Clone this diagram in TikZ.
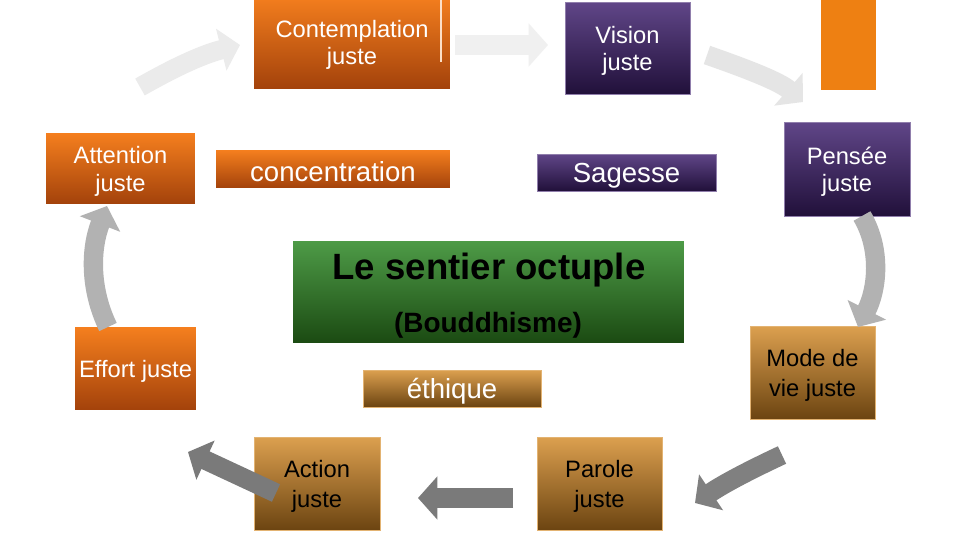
\documentclass[tikz,border=0pt]{standalone}
\usepackage{fontspec}
\setmainfont{Liberation Sans}
\usepackage{xcolor}
\usetikzlibrary{arrows.meta}
\definecolor{orangetop}{HTML}{F57F1E}
\definecolor{orangebot}{HTML}{A3420B}
\definecolor{purpletop}{HTML}{604688}
\definecolor{purplebot}{HTML}{21103A}
\definecolor{browntop}{HTML}{DCA04F}
\definecolor{brownbot}{HTML}{6C4411}
\definecolor{greentop}{HTML}{4E9B47}
\definecolor{greenbot}{HTML}{1B4A12}
\definecolor{barorange}{HTML}{EE8012}
\tikzset{
  box/.style={inner sep=0pt},
  orangebox/.style={box, top color=orangetop, bottom color=orangebot},
  purplebox/.style={box, top color=purpletop, bottom color=purplebot, draw=purpletop!70!white, line width=0.4pt},
  brownbox/.style={box, top color=browntop, bottom color=brownbot, draw=browntop!80!white, line width=0.4pt},
  boxtext/.style={align=center, yshift=-1.6pt, font=\fontsize{13.5}{15.5}\selectfont},
  bigtext/.style={boxtext, font=\fontsize{15.7}{18}\selectfont},
  browntext/.style={boxtext, font=\fontsize{13.5}{17}\selectfont},
  blockarrow/.style={line width=11pt, -{Triangle[length=11pt,width=24pt]}},
}

\begin{document}
\begin{tikzpicture}[x=0.02cm, y=-0.02cm]
    \useasboundingbox [fill=white] (0,0) rectangle (960,540);
    % Top row
    \node [orangebox, minimum width=3.92cm, minimum height=1.88cm, label={[boxtext, white]center:{Contemplation\\juste}}] (contemp) at (352,42) {};
    \draw [orangetop!25!white, line width=0.6pt] (441,0) -- (441,62);
    \node [purplebox, minimum width=2.5cm, minimum height=1.84cm, label={[boxtext, white]center:{Vision\\juste}}] (vision) at (627.5,48) {};
    \fill [barorange] (821,-5) rectangle (876,90);
    % Second row
    \node [orangebox, minimum width=2.98cm, minimum height=1.42cm, label={[boxtext, white]center:{Attention\\juste}}] (attention) at (120.5,168.5) {};
    \node [orangebox, minimum width=4.68cm, minimum height=0.76cm, label={[bigtext, white]center:concentration}] (concentration) at (333,169) {};
    \node [purplebox, minimum width=3.58cm, minimum height=0.74cm, label={[bigtext, white]center:Sagesse}] (sagesse) at (626.5,172.5) {};
    \node [purplebox, minimum width=2.52cm, minimum height=1.88cm, label={[boxtext, white]center:{Pensée\\juste}}] (pensee) at (847,169) {};
    % Centre
    \node [box, top color=greentop, bottom color=greenbot, minimum width=7.82cm, minimum height=2.04cm] (core) at (488.5,292) {};
    \node [anchor=base, font=\bfseries\fontsize{20.8}{24}\selectfont] (coretitle) at (489,280) {Le sentier octuple};
    \node [anchor=base, font=\bfseries\fontsize{15.9}{18}\selectfont] (coresub) at (488,333) {(Bouddhisme)};
    % Lower rows
    \node [orangebox, minimum width=2.42cm, minimum height=1.66cm, label={[boxtext, white]center:Effort juste}] (effort) at (135.5,368.5) {};
    \node [brownbox, minimum width=3.56cm, minimum height=0.74cm, label={[bigtext, white]center:éthique}] (ethique) at (452,388.5) {};
    \node [brownbox, minimum width=2.5cm, minimum height=1.86cm, label={[browntext]center:{Mode de\\vie juste}}] (mode) at (812.5,372.5) {};
    \node [brownbox, minimum width=2.52cm, minimum height=1.86cm, label={[browntext]center:{Action\\juste}}] (action) at (317,483.5) {};
    \node [brownbox, minimum width=2.5cm, minimum height=1.86cm, label={[browntext]center:{Parole\\juste}}] (parole) at (599.5,483.5) {};
    % Arrow ends
    \coordinate (t1) at (140,87);   \coordinate (h1) at (240,45);
    \coordinate (t2) at (455,45);   \coordinate (h2) at (548,45);
    \coordinate (t3) at (707,55);   \coordinate (h3) at (803,102);
    \coordinate (t4) at (862,216);  \coordinate (h4) at (858,327);
    \coordinate (t5) at (782,455);  \coordinate (h5) at (695,503);
    \coordinate (t6) at (513,498);  \coordinate (h6) at (418,498);
    \coordinate (t7) at (276,493);  \coordinate (h7) at (188,452);
    \coordinate (t8) at (108,327);  \coordinate (h8) at (107,206);
    % Arrows
    \draw [blockarrow, black!8] (t1) .. controls (170,70) and (200,55) .. (h1);
    \draw [blockarrow, black!6] (t2) -- (h2);
    \draw [blockarrow, black!10] (t3) .. controls (750,70) and (780,82) .. (h3);
    \draw [blockarrow, black!30] (t4) .. controls (882,250) and (877,290) .. (h4);
    \draw [blockarrow, black!50] (t5) .. controls (750,470) and (725,483) .. (h5);
    \draw [blockarrow, black!52] (t6) -- (h6);
    \draw [blockarrow, black!52] (t7) -- (h7);
    \draw [blockarrow, black!30] (t8) .. controls (90,290) and (90,250) .. (h8);
\end{tikzpicture}
\end{document}
